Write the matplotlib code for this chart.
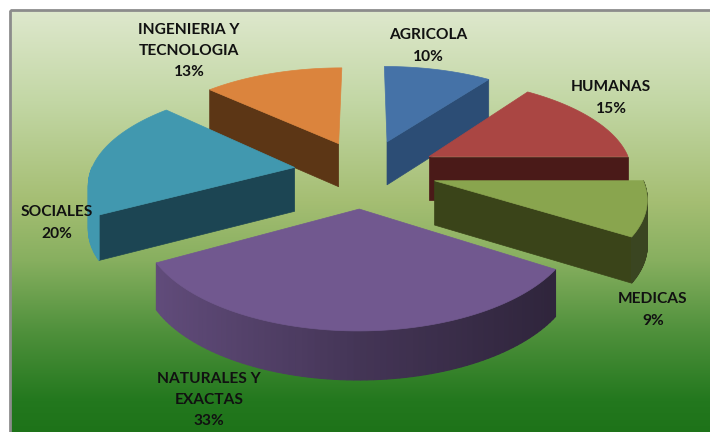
"""3D exploded pie of enrolment share by area, on a green gradient."""

import numpy as np
from matplotlib import pyplot as plt
from matplotlib.colors import to_rgb
from matplotlib.patches import Polygon, Rectangle

# Data
categories = ['AGRICOLA', 'HUMANAS', 'MEDICAS', 'NATURALES Y\nEXACTAS',
              'SOCIALES', 'INGENIERIA Y\nTECNOLOGIA']
shares = [10, 15, 9, 33, 20, 13]

# Styles
top_colors = ['#4572A7', '#AA4643', '#89A54E', '#71588F', '#4198AF', '#DB843D']
wall_colors = ['#2C4D75', '#4A1A18', '#3A4419', '#4A3860', '#1C4553', '#5C3615']
explode = [0.34, 0.35, 0.34, 0.37, 0.34, 0.33]
radius = [0.98, 0.97, 0.98, 0.965, 0.97, 0.98]
shift_x = [1, 0, 0, -3, 0, 0]
label_xy = [(428, 46), (611, 98), (653, 310), (209, 400), (57, 223), (189, 51)]
draw_order = [5, 0, 1, 4, 2, 3]

# Projection of the pie plane onto the picture
cx, cy = 365., 171.5
scale_x, scale_y = 210., 96.
persp = 0.147
depth = 44.


def project(u, v):
    w = 1 + persp * v
    return cx + scale_x * u / w, cy - scale_y * v / w


def drop(v):
    # wall height, a bit taller towards the viewer
    return depth / np.sqrt(1 + persp * v)


def wall(us, vs):
    xs, ys = project(us, vs)
    low = ys + drop(vs)
    return np.r_[np.c_[xs, ys], np.c_[xs, low][::-1]]


def shade(color, x):
    # arc walls go from lit on the left to dark on the right
    fac = np.interp(x, [100, 160, 360, 550], [1.0, 0.85, 0.6, 0.42])
    return tuple(fac * np.array(to_rgb(color)))


fig = plt.figure(figsize=(7.1, 4.32), dpi=100)
ax = fig.add_axes([0, 0, 1, 1])
ax.axis('off')

# Background
stops_y = [10, 100, 200, 260, 330, 400, 432]
stops_rgb = np.array([(222, 232, 205), (195, 215, 165), (165, 190, 115),
                      (135, 175, 95), (80, 145, 60), (35, 120, 30),
                      (30, 115, 25)]) / 255.
rows = np.arange(10, 432)
grad = np.stack([np.interp(rows, stops_y, stops_rgb[:, ii]) for ii in range(3)],
                axis=1)[:, None, :]
ax.imshow(grad, extent=(10, 710, 432, 10), aspect='auto', zorder=0)
ax.add_patch(Rectangle((10, 10), 720, 440, fill=False, ec='#8c8c8c', lw=2, zorder=1))
ax.set_xlim(0, 710)
ax.set_ylim(432, 0)

# Wedges
edges = np.r_[0, np.cumsum(shares)] / np.sum(shares) * 2 * np.pi
for order, ii in enumerate(draw_order):
    zz = 2 + 0.01 * order
    th = np.linspace(edges[ii], edges[ii + 1], 80)
    mid = 0.5 * (edges[ii] + edges[ii + 1])
    u0 = explode[ii] * np.sin(mid) + shift_x[ii] / scale_x
    v0 = explode[ii] * np.cos(mid)
    us = u0 + radius[ii] * np.sin(th)
    vs = v0 + radius[ii] * np.cos(th)

    # Radial walls that face the viewer
    for jj, facing in ((0, np.sin(th[0]) < 0), (-1, np.sin(th[-1]) > 0)):
        if facing:
            poly = wall(np.array([u0, us[jj]]), np.array([v0, vs[jj]]))
            ax.add_patch(Polygon(poly, fc=wall_colors[ii], ec=wall_colors[ii],
                                 lw=0.5, zorder=zz))

    # Outer wall, front half only
    for kk in range(len(th) - 1):
        if np.cos(th[kk:kk + 2].mean()) >= 0:
            continue
        poly = wall(us[kk:kk + 2], vs[kk:kk + 2])
        col = shade(top_colors[ii], poly[:, 0].mean())
        ax.add_patch(Polygon(poly, fc=col, ec=col, lw=0.8, zorder=zz))

    # Top face
    xs, ys = project(np.r_[u0, us], np.r_[v0, vs])
    ax.add_patch(Polygon(np.c_[xs, ys], fc=top_colors[ii], ec=top_colors[ii],
                         lw=0.5, zorder=zz + 0.001))

# Labels
for name, val, (lx, ly) in zip(categories, shares, label_xy):
    ax.text(lx, ly, f'{name}\n{val}%', ha='center', va='center', ma='center',
            family='Lato', weight='bold', fontsize=11.2, color='#111111',
            linespacing=1.64, zorder=5)

fig.savefig('out.png', dpi=100)
